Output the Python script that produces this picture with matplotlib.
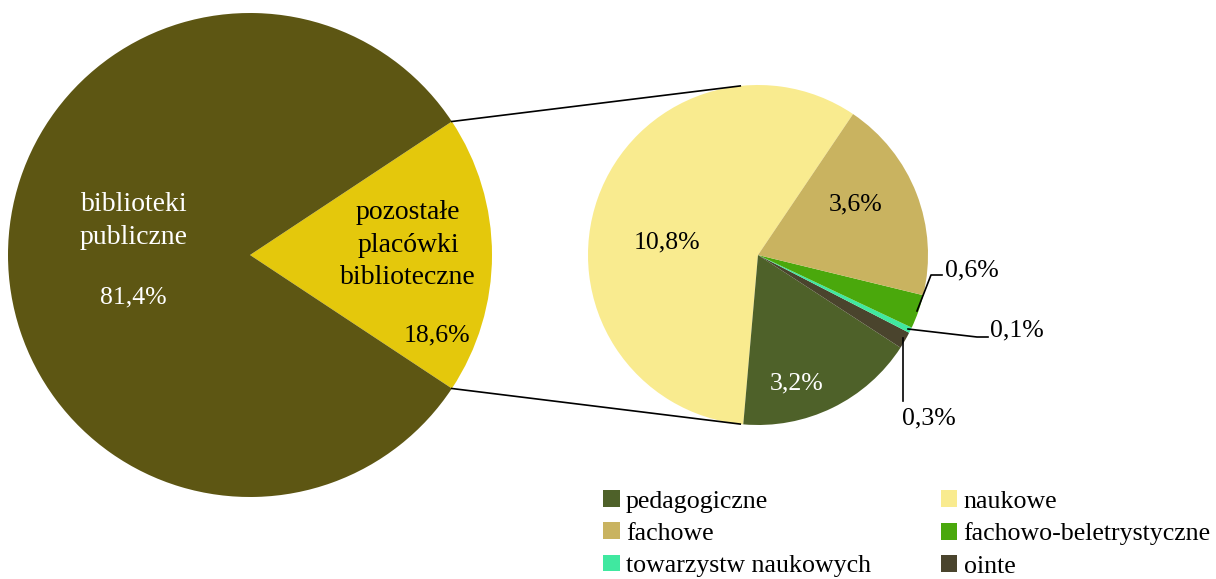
import numpy as np
import matplotlib.pyplot as plt

plt.rcParams['font.family'] = ['Liberation Serif', 'DejaVu Serif']

# dane
main_labels = ["pozostałe\nplacówki\nbiblioteczne", "biblioteki\npubliczne"]
main_values = [18.6, 81.4]
main_colors = ["#E4C80C", "#5D5613"]

sub_labels = ["naukowe", "pedagogiczne", "ointe", "towarzystw naukowych",
              "fachowo-beletrystyczne", "fachowe"]
sub_values = [10.8, 3.2, 0.3, 0.1, 0.6, 3.6]
sub_colors = ["#F9EB8F", "#4E6129", "#4A442D", "#40E8A0", "#4AA80C", "#C9B360"]

legend_order = ["pedagogiczne", "fachowe", "towarzystw naukowych",
                "naukowe", "fachowo-beletrystyczne", "ointe"]

W, H = 1216, 579
fig = plt.figure(figsize=(W / 100, H / 100), dpi=100)
ax = fig.add_axes([0, 0, 1, 1])

# duże koło
c1 = (250, H - 255)
r1 = 242
half = main_values[0] / 100 * 360 / 2
ax.pie(main_values, colors=main_colors, startangle=-half, radius=r1, center=c1,
       wedgeprops=dict(linewidth=0))

# małe koło
c2 = (758, H - 255)
r2 = 170
w2, _ = ax.pie(sub_values, colors=sub_colors, startangle=56, radius=r2, center=c2,
               wedgeprops=dict(linewidth=0))

# linie łączące
a1 = np.radians(half)
for sgn, a2 in [(1, 96), (-1, -96)]:
    p1 = (c1[0] + r1 * np.cos(a1), c1[1] + sgn * r1 * np.sin(a1))
    p2 = (c2[0] + r2 * np.cos(np.radians(a2)), c2[1] + r2 * np.sin(np.radians(a2)))
    ax.plot([p1[0], p2[0]], [p1[1], p2[1]], color="black", lw=1.2)

fs = 18.5
fl = 20
ax.text(134, H - 221, main_labels[1], color="white", fontsize=fl,
        ha="center", va="center", linespacing=1.42)
ax.text(133, H - 297, "81,4%", color="white", fontsize=fs, ha="center", va="center")
ax.text(408, H - 245, main_labels[0], color="black", fontsize=fl,
        ha="center", va="center", linespacing=1.38)
ax.text(437, H - 335, "18,6%", color="black", fontsize=fs, ha="center", va="center")

ax.text(667, H - 242, "10,8%", fontsize=fs, ha="center", va="center")
ax.text(856, H - 204, "3,6%", fontsize=fs, ha="center", va="center")
ax.text(797, H - 383, "3,2%", fontsize=fs, ha="center", va="center", color="white")

# etykiety z liniami
ax.plot([917, 931, 942], [H - 311, H - 275, H - 275], color="black", lw=1.2)
ax.text(945, H - 270, "0,6%", fontsize=fs, ha="left", va="center")
ax.plot([908, 977, 988], [H - 329, H - 337, H - 337], color="black", lw=1.2)
ax.text(990, H - 330, "0,1%", fontsize=fs, ha="left", va="center")
ax.plot([903, 903], [H - 338, H - 401], color="black", lw=1.2)
ax.text(929, H - 418, "0,3%", fontsize=fs, ha="center", va="center")

ax.set_xlim(0, W)
ax.set_ylim(0, H)
ax.set_aspect("equal")
ax.axis("off")

handles = [w2[sub_labels.index(n)] for n in legend_order]
fig.legend(handles, legend_order, ncol=2, loc="upper left",
           bbox_to_anchor=(593 / W, 1 - 480 / H), frameon=False, fontsize=18.6,
           handlelength=0.63, handleheight=0.63, handletextpad=0.25,
           columnspacing=2.7, labelspacing=0.37, borderaxespad=0)

fig.savefig("out.png", dpi=100)
